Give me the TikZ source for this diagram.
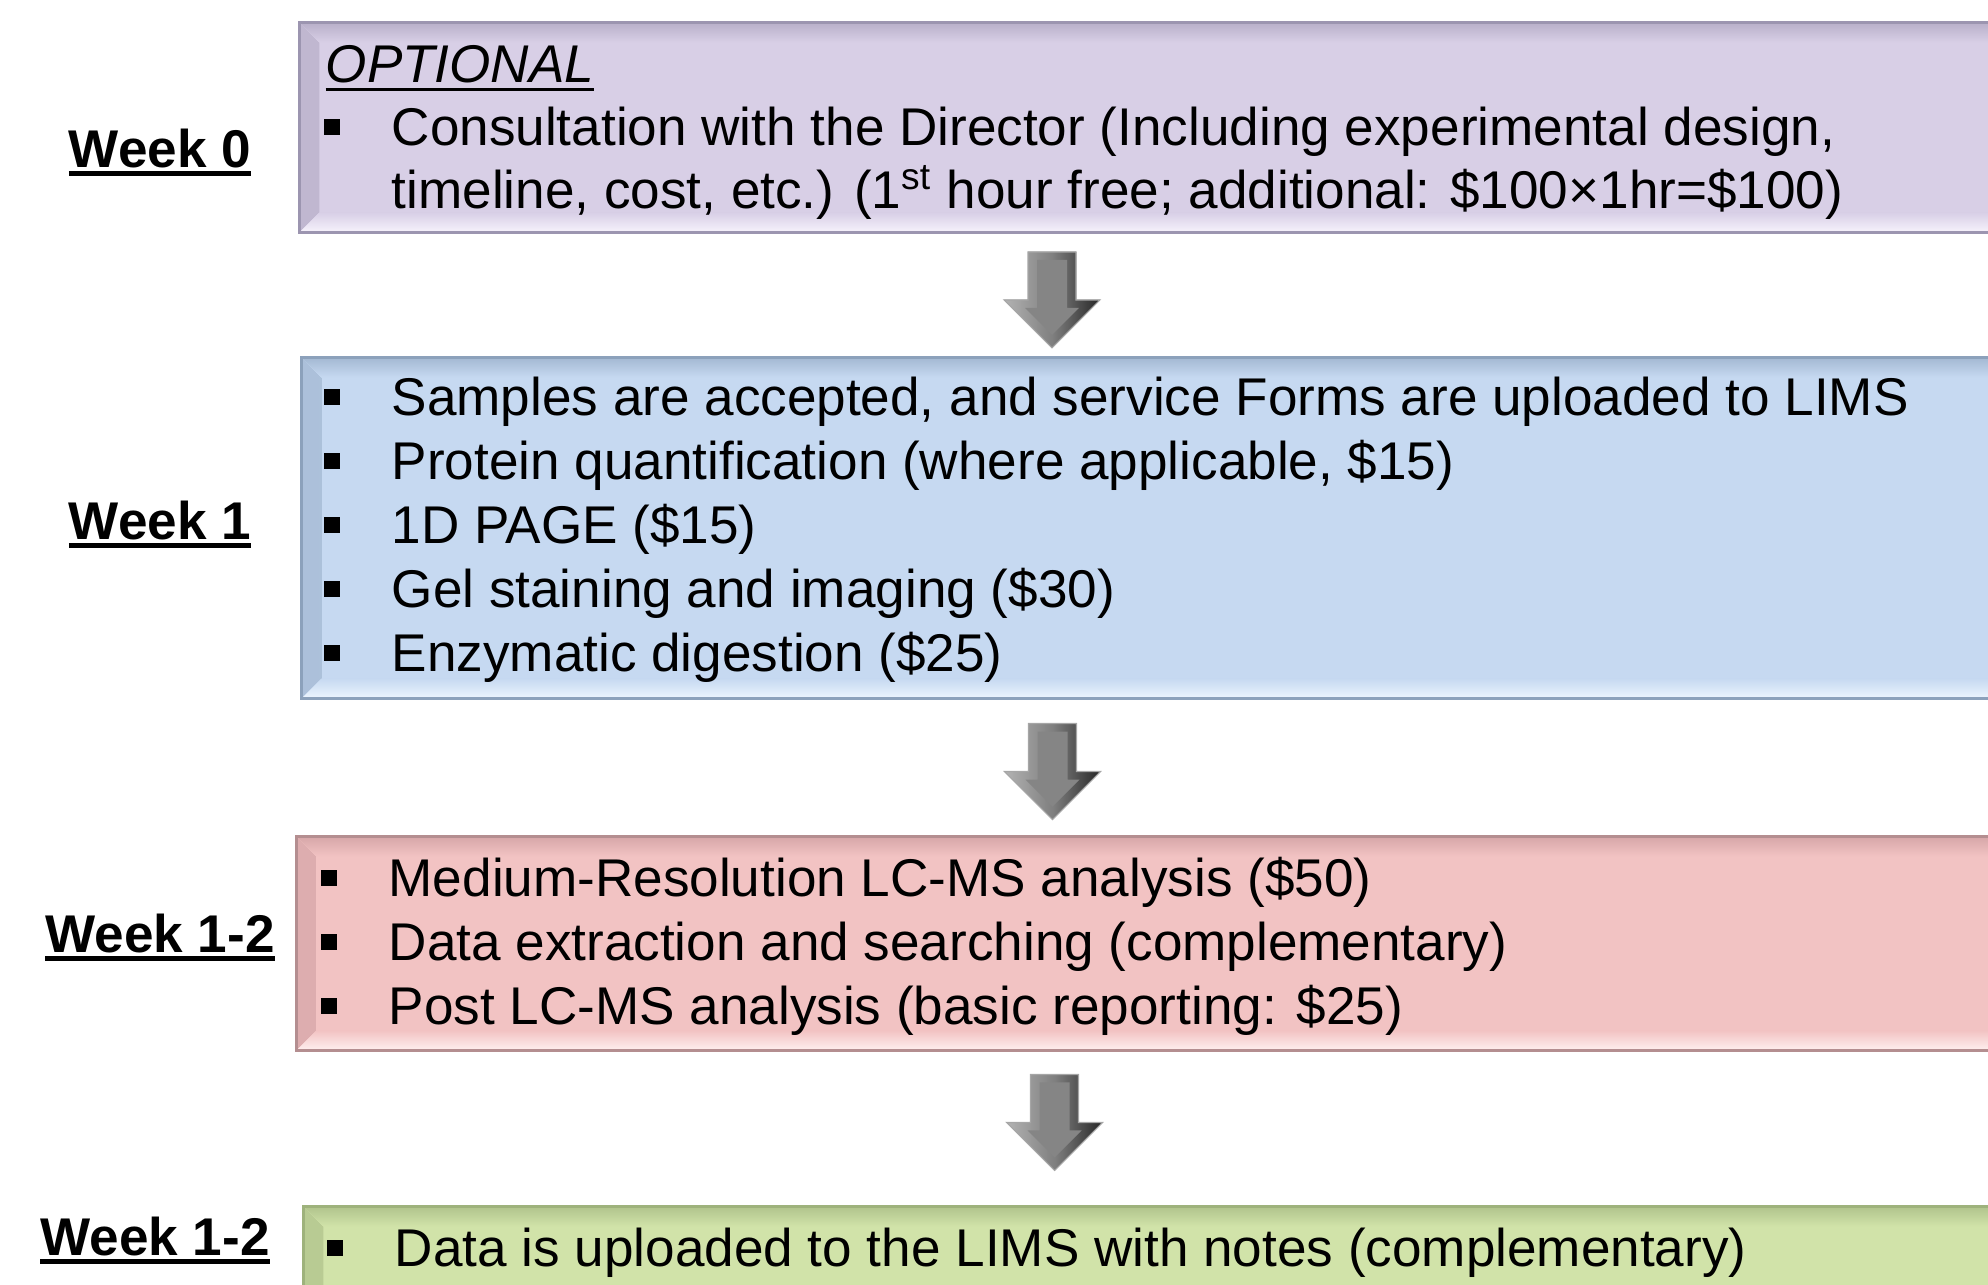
\documentclass[tikz,border=0pt]{standalone}
\usepackage{fontspec}
\setmainfont{Liberation Sans}
\usetikzlibrary{calc}

\definecolor{lavfill}{HTML}{D8CFE6}
\definecolor{lavdark}{HTML}{B8AFC9}
\definecolor{lavlight}{HTML}{F7F3FC}
\definecolor{lavline}{HTML}{9C95B0}
\definecolor{blufill}{HTML}{C6D9F1}
\definecolor{bludark}{HTML}{A3B8D2}
\definecolor{blulight}{HTML}{EDF5FE}
\definecolor{bluline}{HTML}{8CA1BB}
\definecolor{redfill}{HTML}{F2C3C3}
\definecolor{reddark}{HTML}{D6A6A8}
\definecolor{redlight}{HTML}{FFF0F0}
\definecolor{redline}{HTML}{B48E90}
\definecolor{grnfill}{HTML}{D1E3A9}
\definecolor{grndark}{HTML}{B0C38C}
\definecolor{grnlight}{HTML}{F6FBE0}
\definecolor{grnline}{HTML}{9EB27C}

\def\bul{\makebox[0.68cm][l]{\rule[0.19em]{0.3em}{0.3em}}}
\newcommand{\wkul}[2]{\setbox0\hbox{#2}\rlap{\rule[-0.17em]{\wd0}{#1}}\box0}

\tikzset{
	bevbox/.style={draw=#1line, fill=#1fill, line width=0.8pt, anchor=north west, inner sep=0pt,
		path picture={
			\fill[left color=#1dark!75!#1fill, right color=#1fill] (path picture bounding box.north west) -- ([shift={(20,20)}]path picture bounding box.north west) -- ([shift={(20,-20)}]path picture bounding box.south west) -- (path picture bounding box.south west) -- cycle;
			\fill[top color=#1dark, bottom color=#1fill] (path picture bounding box.north west) -- (path picture bounding box.north east) -- ([shift={(-20,20)}]path picture bounding box.north east) -- ([shift={(20,20)}]path picture bounding box.north west) -- cycle;
			\fill[top color=#1fill, bottom color=#1light] (path picture bounding box.south west) -- ([shift={(20,-20)}]path picture bounding box.south west) -- ([shift={(-20,-20)}]path picture bounding box.south east) -- (path picture bounding box.south east) -- cycle;
		}},
	txt/.style={anchor=base west, inner sep=0pt, font=\fontsize{15.1}{18.2}\selectfont},
	wk/.style={anchor=base, inner sep=0pt, font=\fontsize{15.1}{18.2}\selectfont\bfseries},
	downarr/.pic={
		\fill[left color=black!30, right color=black!85, middle color=black!50, draw=black!35, line width=0.3pt] (-24,-48) -- (24,-48) -- (24,0) -- (48,0) -- (0,48) -- (-48,0) -- (-24,0) -- cycle;
		\fill[black!48] (-15,-40) -- (15,-40) -- (15,8) -- (27,8) -- (0,35) -- (-27,8) -- (-15,8) -- cycle;
	}
}

\begin{document}
\begin{tikzpicture}[x=0.01cm, y=-0.01cm]
			%%%%% START %%%%%
			\useasboundingbox (0,0) rectangle (1988,1284);
			\clip (0,0) rectangle (1988,1284);
			
			% week 0
			\node[bevbox=lav, minimum width=17.12cm, minimum height=2.10cm] (wk0box) at (298,21) {};
			\node[txt] (optl) at (325,82) {\wkul{0.06em}{\itshape OPTIONAL}};
			\node[txt] (w0a) at (323,145) {\bul Consultation with the Director (Including experimental design,};
			\node[txt] (w0b) at (391,208) {timeline, cost, etc.) (1\textsuperscript{st} hour free; additional: \$100×1hr=\$100)};
			\node[wk] (wk0) at (160,167) {\wkul{0.095em}{Week 0}};
			
			% week 1
			\node[bevbox=blu, minimum width=17.10cm, minimum height=3.41cm] (wk1box) at (300,356) {};
			\node[txt] (w1a) at (323,415) {\bul Samples are accepted, and service Forms are uploaded to LIMS};
			\node[txt] (w1b) at (323,479) {\bul Protein quantification (where applicable, \$15)};
			\node[txt] (w1c) at (323,543) {\bul 1D PAGE (\$15)};
			\node[txt] (w1d) at (323,607) {\bul Gel staining and imaging (\$30)};
			\node[txt] (w1e) at (323,671) {\bul Enzymatic digestion (\$25)};
			\node[wk] (wk1) at (160,539) {\wkul{0.095em}{Week 1}};
			
			% week 1-2, LC-MS
			\node[bevbox=red, minimum width=17.15cm, minimum height=2.14cm] (wk2box) at (295,835) {};
			\node[txt] (w2a) at (320,896) {\bul Medium-Resolution LC-MS analysis (\$50)};
			\node[txt] (w2b) at (320,960) {\bul Data extraction and searching (complementary)};
			\node[txt] (w2c) at (320,1024) {\bul Post LC-MS analysis (basic reporting: \$25)};
			\node[wk] (wk2) at (160,952) {\wkul{0.095em}{Week 1-2}};
			
			% week 1-2, upload
			\node[bevbox=grn, minimum width=17.08cm, minimum height=1.10cm] (wk3box) at (302,1205) {};
			\node[txt] (w3a) at (326,1266) {\bul Data is uploaded to the LIMS with notes (complementary)};
			\node[wk] (wk3) at (155,1255) {\wkul{0.095em}{Week 1-2}};
			
			% arrows
			\coordinate (a01) at ($(wk0box.south west)!0.5!(wk1box.north west)+(753,5)$);
			\coordinate (a12) at ($(wk1box.south west)!0.5!(wk2box.north west)+(755,4)$);
			\coordinate (a23) at ($(wk2box.south west)!0.5!(wk3box.north west)+(756,-6)$);
			\pic at (a01) {downarr};
			\pic at (a12) {downarr};
			\pic at (a23) {downarr};
			
			%%%%% END %%%%%
\end{tikzpicture}
\end{document}
